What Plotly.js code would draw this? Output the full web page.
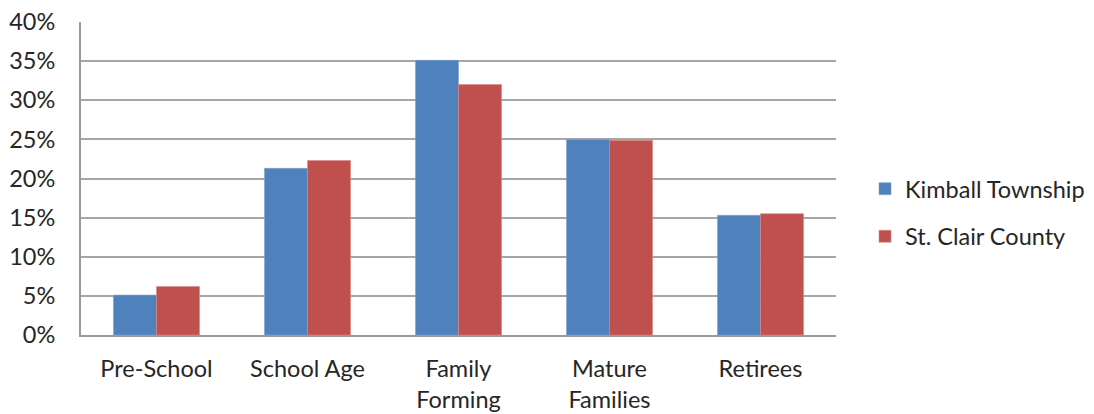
<!DOCTYPE html>
<html>
<head>
<meta charset="utf-8">
<script src="https://cdn.plot.ly/plotly-3.0.1.min.js"></script>
<style>
  html, body { margin: 0; padding: 0; background: #fff; }
  #chart { width: 1094px; height: 414px; }
</style>
</head>
<body>
<div id="chart"></div>
<script>
// Age-group shares (percent of population)
const categories = ['Pre-School', 'School Age', 'Family<br>Forming', 'Mature<br>Families', 'Retirees'];
const kimballTownship = [5.1, 21.3, 35.1, 25.0, 15.3];
const stClairCounty = [6.2, 22.3, 32.0, 24.9, 15.5];
const yTicks = [0, 5, 10, 15, 20, 25, 30, 35, 40];
const yTickLabels = ['0%', '5%', '10%', '15%', '20%', '25%', '30%', '35%', '40%'];

const FONT = 'Lato, "Open Sans", sans-serif';
const TEXT = '#262626';
const SIZE = 23.5;

const PLOT_W = 1094 - 81 - 258;

const traces = [
  {
    type: 'bar', name: 'Kimball Township', x: categories, y: kimballTownship,
    legendgroup: 'k',
    marker: { color: '#4F81BD', line: { color: '#7fa3d3', width: 0.6 } },
    hoverinfo: 'x+y'
  },
  {
    type: 'bar', name: 'St. Clair County', x: categories, y: stClairCounty,
    legendgroup: 's',
    marker: { color: '#C0504D', line: { color: '#d98a88', width: 0.6 } },
    hoverinfo: 'x+y'
  }
];

const layout = {
  width: 1094, height: 414,
  // fixed margins: the legend lives in the right margin without resizing the plot
  margin: { l: 81, r: 258, t: 22, b: 79, pad: 0, autoexpand: false },
  paper_bgcolor: '#fff', plot_bgcolor: '#fff',
  barmode: 'group', bargap: 0.43, bargroupgap: 0,
  font: { family: FONT, size: SIZE, color: TEXT },
  showlegend: true,
  legend: {
    x: 1 + (865 - 836) / PLOT_W, xanchor: 'left', y: 0.39, yanchor: 'middle',
    font: { family: FONT, size: SIZE, color: TEXT },
    tracegroupgap: 14, itemwidth: 30, bgcolor: 'rgba(0,0,0,0)'
  },
  xaxis: {
    type: 'category',
    showgrid: false, zeroline: false,
    showline: true, linecolor: '#9a9a9a', linewidth: 2,
    ticks: 'outside', ticklen: 12, tickcolor: 'rgba(0,0,0,0)',
    tickfont: { family: FONT, size: SIZE, color: TEXT }
  },
  yaxis: {
    range: [0, 40], tickmode: 'array', tickvals: yTicks, ticktext: yTickLabels,
    showgrid: true, gridcolor: '#a6a6a6', gridwidth: 2,
    zeroline: false, showline: true, linecolor: '#9a9a9a', linewidth: 2,
    ticks: 'outside', ticklen: 19, tickcolor: 'rgba(0,0,0,0)',
    tickfont: { family: FONT, size: SIZE, color: TEXT }
  }
};

Plotly.newPlot('chart', traces, layout, { staticPlot: true, displayModeBar: false });
</script>
</body>
</html>
